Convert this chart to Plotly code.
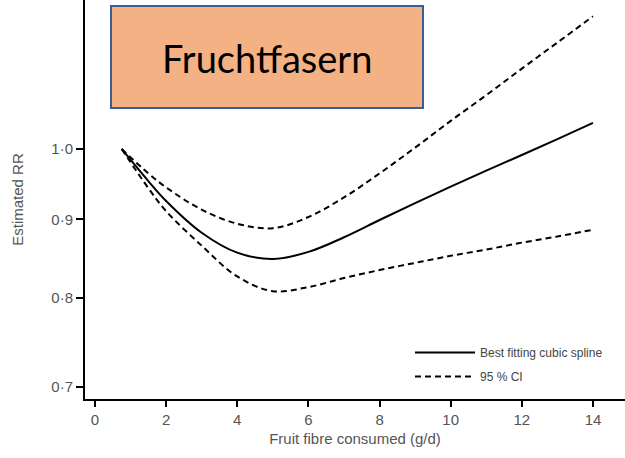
import plotly.graph_objects as go

# Data
fibre = [0.75, 1.5, 2, 3, 4, 5, 6, 7, 8, 9, 10, 11, 12, 13, 14]
rr_spline = [1.000, 0.953, 0.925, 0.882, 0.856, 0.848, 0.857, 0.876, 0.899, 0.922, 0.945, 0.968, 0.991, 1.015, 1.040]
rr_upper = [1.000, 0.964, 0.944, 0.913, 0.894, 0.888, 0.903, 0.930, 0.964, 1.002, 1.043, 1.084, 1.128, 1.173, 1.220]
rr_lower = [1.000, 0.943, 0.911, 0.865, 0.826, 0.808, 0.813, 0.824, 0.834, 0.843, 0.852, 0.860, 0.869, 0.877, 0.886]

x_ticks = [0, 2, 4, 6, 8, 10, 12, 14]
y_ticks = [0.7, 0.8, 0.9, 1.0]
y_ticktext = ["0·7", "0·8", "0·9", "1·0"]

title_text = "Fruchtfasern"

W, H = 625, 458
ML, MB, MT, MR = 85, 59, 0, 0

fig = go.Figure()
fig.add_trace(go.Scatter(
    x=fibre, y=rr_spline, mode="lines", name="Best fitting cubic spline",
    line=dict(color="black", width=2, shape="spline"), legendgroup="a",
))
fig.add_trace(go.Scatter(
    x=fibre, y=rr_upper, mode="lines", name="95 % CI",
    line=dict(color="black", width=2, dash="6px,4px", shape="spline"), legendgroup="b",
))
fig.add_trace(go.Scatter(
    x=fibre, y=rr_lower, mode="lines", name="95 % CI", showlegend=False,
    line=dict(color="black", width=2, dash="6px,4px", shape="spline"), legendgroup="b",
))

axis_font = dict(family="Liberation Sans, Arial, sans-serif", size=15, color="#555555")

fig.update_layout(
    width=W, height=H,
    margin=dict(l=ML, r=MR, t=MT, b=MB, pad=0),
    paper_bgcolor="white", plot_bgcolor="white",
    showlegend=True,
    legend=dict(
        x=(410 - ML) / (W - ML - MR), y=(399 - 338) / 399,
        xanchor="left", yanchor="top",
        bgcolor="rgba(0,0,0,0)",
        font=dict(family="Liberation Sans, Arial, sans-serif", size=12, color="#444444"),
        traceorder="grouped", tracegroupgap=5, itemwidth=60,
    ),
    xaxis=dict(
        range=[-0.28, 14.9], tickvals=x_ticks, ticks="outside", ticklen=6,
        tickwidth=1.5, tickcolor="black",
        showline=True, linecolor="black", linewidth=2, showgrid=False, zeroline=False,
        tickfont=axis_font,
        title=dict(text="Fruit fibre consumed (g/d)", font=axis_font, standoff=6),
    ),
    yaxis=dict(
        type="log", range=[-0.1628, 0.0970], tickvals=y_ticks, ticktext=y_ticktext,
        ticks="outside", ticklen=7, tickwidth=1.5, tickcolor="black",
        showline=True, linecolor="black", linewidth=2, showgrid=False, zeroline=False,
        tickfont=axis_font,
        title=dict(text="Estimated RR", font=axis_font, standoff=24),
    ),
    shapes=[dict(
        type="rect", xref="paper", yref="paper",
        x0=(111 - ML) / (W - ML - MR), x1=(423 - ML) / (W - ML - MR),
        y0=(399 - 108) / 399, y1=(399 - 6) / 399,
        fillcolor="#F4B183", line=dict(color="#3A5C98", width=2),
    )],
    annotations=[dict(
        text=title_text, xref="paper", yref="paper",
        x=(267 - ML) / (W - ML - MR), y=(399 - 58) / 399,
        xanchor="center", yanchor="middle", showarrow=False,
        font=dict(family="Lato, Open Sans, sans-serif", size=38, color="black"),
    )],
)

fig.write_html("out.html")
